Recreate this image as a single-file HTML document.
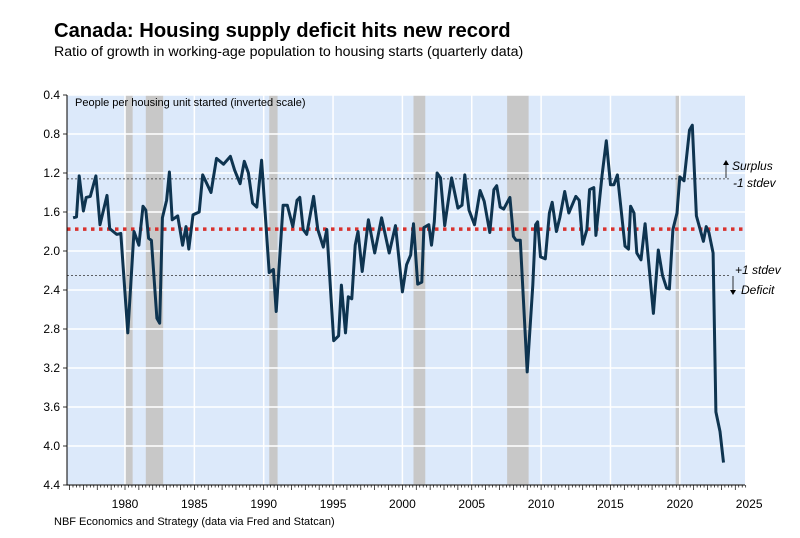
<!DOCTYPE html>
<html><head><meta charset="utf-8"><style>
body{margin:0;background:#fff;}
svg{display:block;font-family:"Liberation Sans",Arial,sans-serif;}
</style></head><body>
<svg id="chart" width="800" height="538" viewBox="0 0 800 538">
<text x="54" y="37" font-size="20.2" font-weight="bold" fill="#000">Canada: Housing supply deficit hits new record</text>
<text x="54" y="56" font-size="14.2" fill="#000">Ratio of growth in working-age population to housing starts (quarterly data)</text>
<rect x="67" y="95" width="678" height="390" fill="#dce9fa"/>
<g id="rec"></g><g id="grid"></g><g id="refs"></g><g id="series"></g><g id="axes"></g>
<text x="75" y="106" font-size="11" fill="#000">People per housing unit started (inverted scale)</text>
<g font-size="12" font-style="italic">
<line x1="726" y1="178" x2="726" y2="164" stroke="#000" stroke-width="0.8"/><path d="M723,165 L726,160 L729,165Z" fill="#000"/>
<text x="732" y="170">Surplus</text><text x="733" y="187">-1 stdev</text>
<text x="735" y="274">+1 stdev</text>
<line x1="733" y1="276" x2="733" y2="291" stroke="#000" stroke-width="0.8"/><path d="M730,290 L733,295 L736,290Z" fill="#000"/>
<text x="741" y="294">Deficit</text>
</g>
<text x="54" y="525" font-size="11" fill="#000">NBF Economics and Strategy (data via Fred and Statcan)</text>
</svg>
<script>
const years=[1976.26,1976.5,1976.7,1977.0,1977.2,1977.5,1977.9,1978.2,1978.7,1978.9,1979.4,1979.7,1980.2,1980.65,1981.0,1981.3,1981.5,1981.7,1981.9,1982.3,1982.5,1982.7,1983.0,1983.2,1983.4,1983.8,1984.15,1984.4,1984.6,1984.9,1985.35,1985.6,1986.2,1986.6,1987.1,1987.6,1987.9,1988.3,1988.6,1988.9,1989.2,1989.5,1989.85,1990.4,1990.7,1990.9,1991.4,1991.7,1992.1,1992.4,1992.6,1992.85,1993.1,1993.6,1993.9,1994.3,1994.55,1995.05,1995.4,1995.6,1995.9,1996.1,1996.35,1996.6,1996.8,1997.1,1997.55,1998.0,1998.5,1999.05,1999.5,2000.0,2000.3,2000.6,2000.8,2001.1,2001.4,2001.55,2001.9,2002.1,2002.3,2002.5,2002.75,2003.05,2003.55,2004.0,2004.3,2004.5,2004.8,2005.2,2005.6,2005.9,2006.3,2006.6,2006.8,2007.05,2007.3,2007.75,2008.0,2008.2,2008.5,2009.0,2009.4,2009.6,2009.75,2009.96,2010.3,2010.6,2010.8,2011.1,2011.35,2011.7,2012.0,2012.5,2012.75,2013.0,2013.3,2013.5,2013.8,2013.95,2014.4,2014.7,2015.0,2015.25,2015.5,2016.05,2016.3,2016.45,2016.7,2016.9,2017.2,2017.5,2018.1,2018.45,2018.75,2019.05,2019.25,2019.5,2019.8,2020.0,2020.3,2020.7,2020.9,2021.2,2021.7,2021.9,2022.1,2022.4,2022.6,2022.9,2023.15];
const ratio=[1.66,1.65,1.23,1.59,1.45,1.44,1.23,1.73,1.43,1.77,1.83,1.82,2.84,1.80,1.94,1.54,1.58,1.87,1.89,2.69,2.74,1.66,1.48,1.19,1.68,1.64,1.94,1.75,1.98,1.63,1.60,1.22,1.40,1.05,1.11,1.03,1.17,1.31,1.08,1.20,1.51,1.55,1.07,2.22,2.19,2.62,1.53,1.53,1.75,1.48,1.45,1.78,1.83,1.44,1.78,1.96,1.78,2.92,2.87,2.35,2.84,2.47,2.49,1.94,1.80,2.21,1.68,2.02,1.66,2.02,1.74,2.42,2.14,2.04,1.72,2.34,2.32,1.76,1.73,1.94,1.70,1.20,1.25,1.74,1.25,1.56,1.53,1.22,1.58,1.73,1.38,1.49,1.81,1.37,1.33,1.55,1.57,1.45,1.85,1.89,1.89,3.24,2.35,1.73,1.70,2.06,2.08,1.61,1.50,1.80,1.66,1.39,1.61,1.44,1.48,1.93,1.78,1.37,1.35,1.84,1.22,0.87,1.32,1.32,1.22,1.95,1.98,1.54,1.61,2.02,2.09,1.72,2.64,1.99,2.25,2.38,2.39,1.78,1.61,1.24,1.28,0.76,0.71,1.64,1.90,1.75,1.81,2.02,3.65,3.85,4.17];
const recStart=[1980.0,1981.5,1990.4,2000.8,2007.55,2019.7];
const recEnd=[1980.55,1982.75,1991.0,2001.65,2009.1,2020.05];
const yTicks=[0.4,0.8,1.2,1.6,2.0,2.4,2.8,3.2,3.6,4.0,4.4];
const xTicks=[1980,1985,1990,1995,2000,2005,2010,2015,2020,2025];
const meanVal=[1.775];
const stdevVals=[1.26,2.25];
const X=y=>125+(y-1980)*13.87;
const Y=v=>95+(v-0.4)*97.5;
const NS="http://www.w3.org/2000/svg";
function mk(tag,parent,attrs){const e=document.createElementNS(NS,tag);for(const k in attrs)e.setAttribute(k,attrs[k]);document.getElementById(parent).appendChild(e);return e;}
recStart.forEach((s,i)=>{const e=mk('rect','rec',{x:X(s),y:95,width:X(recEnd[i])-X(s),height:390,fill:'#c8c8c8'});

});
yTicks.forEach(t=>{const l=mk('line','grid',{x1:67,x2:745,y1:Y(t),y2:Y(t),stroke:'#fff','stroke-width':1.5});


const tx=mk('text','axes',{x:60,y:Y(t)+4,'font-size':12,'text-anchor':'end'});tx.textContent=t.toFixed(1);

});
xTicks.forEach(t=>{if(t<2025){const l=mk('line','grid',{x1:X(t),x2:X(t),y1:95,y2:485,stroke:'#fff','stroke-width':1.5});

}
const tx=mk('text','axes',{x:X(t),y:508,'font-size':12,'text-anchor':'middle'});tx.textContent=t;

});
stdevVals.forEach(v=>{const l=mk('line','refs',{x1:67,x2:730,y1:Y(v),y2:Y(v),stroke:'#333','stroke-width':0.8,'stroke-dasharray':'2,2'});

});
const m=mk('line','refs',{x1:67,x2:745,y1:Y(meanVal[0]),y2:Y(meanVal[0]),stroke:'#d8322e','stroke-width':3.5,'stroke-dasharray':'3.5,4.5'});


const p=mk('path','series',{d:years.map((y,i)=>(i?'L':'M')+X(y).toFixed(1)+','+Y(ratio[i]).toFixed(1)).join(''),fill:'none',stroke:'#0e3450','stroke-width':3,'stroke-linejoin':'round'});


const ax=mk('path','axes',{d:'M67,95 L67,485 L745,485',fill:'none',stroke:'#000','stroke-width':1});


for(let q=1976;q<2025;q+=0.25){const yr=Math.abs(q-Math.round(q))<0.01;const t=mk('line','axes',{x1:X(q),x2:X(q),y1:485,y2:yr?490:487.5,stroke:'#000','stroke-width':0.7});

}
yTicks.forEach(t=>{const l=mk('line','axes',{x1:63,x2:67,y1:Y(t),y2:Y(t),stroke:'#000','stroke-width':0.8});

});
</script>
</body></html>
